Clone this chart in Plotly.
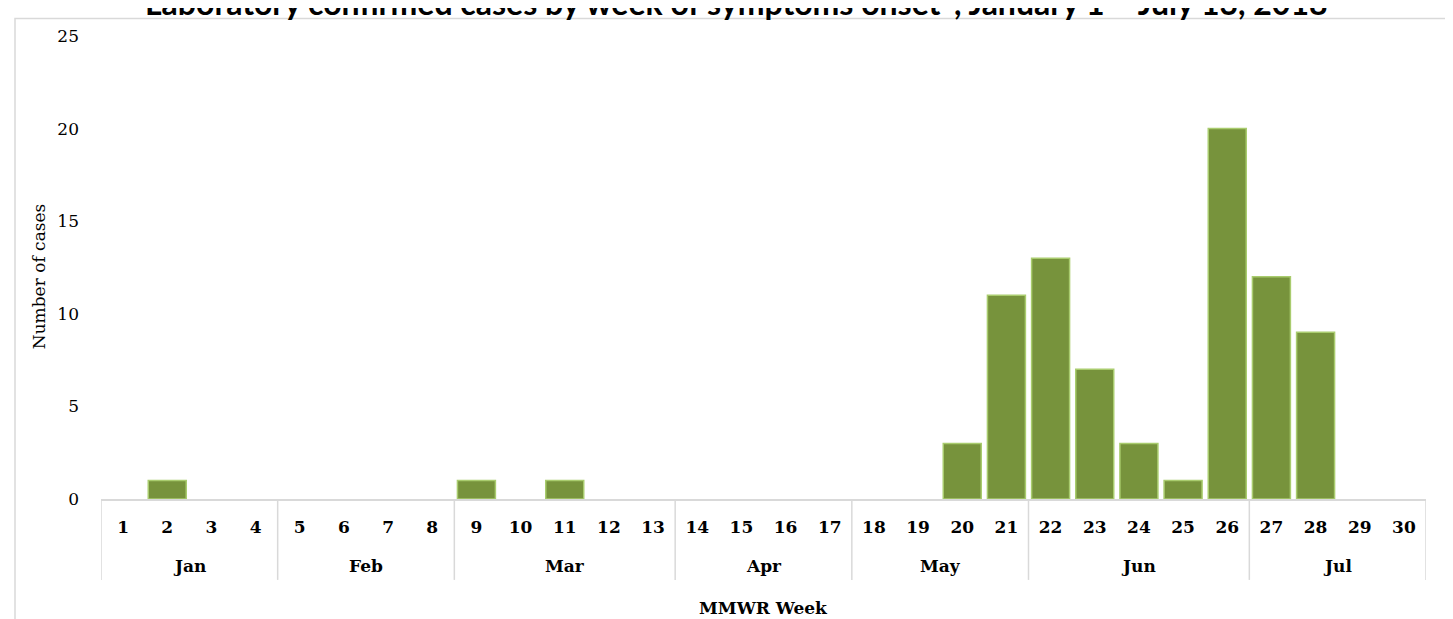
import plotly.graph_objects as go

# ---- data ----
weeks = list(range(1, 31))
cases = [0, 1, 0, 0, 0, 0, 0, 0, 1, 0, 1, 0, 0, 0, 0, 0, 0, 0, 0, 3,
         11, 13, 7, 3, 1, 20, 12, 9, 0, 0]
week_month = (["Jan"] * 4 + ["Feb"] * 4 + ["Mar"] * 5 + ["Apr"] * 4 +
              ["May"] * 4 + ["Jun"] * 5 + ["Jul"] * 4)
title_text = "Laboratory confirmed cases by week of symptoms onset*, January 1 \u2013 July 13, 2018"
y_title = "Number of cases"
x_title = "MMWR Week"

# ---- geometry (pixels) ----
W, H = 1453, 619
PL, PR, PT, PB = 93, 1418, 27.5, 491
ph = PB - PT
pw = PR - PL


def px_y(py):
    return (PB - py) / ph


def px_x(px):
    return (px - PL) / pw


SERIF = "DejaVu Serif"
GRID = "#d9d9d9"

fig = go.Figure()
fig.add_trace(go.Bar(
    x=weeks,
    y=[v if v else None for v in cases],
    marker=dict(color="#77933C", line=dict(color="#A9CC6E", width=1.5)),
    hoverinfo="x+y",
))

shapes = []
annotations = []

# month groups
groups = []
for w, m in zip(weeks, week_month):
    if groups and groups[-1][0] == m:
        groups[-1][2] = w
    else:
        groups.append([m, w, w])

boundaries = [groups[0][1] - 0.5] + [g[2] + 0.5 for g in groups]
for b in boundaries:
    shapes.append(dict(type="line", xref="x", yref="paper", x0=b, x1=b,
                       y0=0, y1=px_y(572), line=dict(color=GRID, width=1.5)))
for m, a, b in groups:
    annotations.append(dict(text="<b>%s</b>" % m, xref="x", yref="paper",
                            x=(a + b) / 2, y=px_y(558), showarrow=False,
                            yanchor="middle",
                            font=dict(family=SERIF, size=17, color="#000")))

# outer chart border
shapes.append(dict(type="rect", xref="paper", yref="paper",
                   x0=px_x(7), x1=px_x(1445), y0=px_y(700), y1=px_y(10),
                   line=dict(color=GRID, width=1.5), layer="below"))

# title (cut off at the top like the reference)
annotations.append(dict(text="<b>%s</b>" % title_text, xref="paper", yref="paper",
                        x=px_x(728), y=px_y(15), yanchor="bottom", xanchor="center",
                        showarrow=False,
                        font=dict(family="Lato", size=32, color="#000")))
# axis titles
annotations.append(dict(text=y_title, xref="paper", yref="paper",
                        x=px_x(31), y=px_y(268), textangle=-90, showarrow=False,
                        xanchor="center", yanchor="middle",
                        font=dict(family=SERIF, size=17, color="#000")))
annotations.append(dict(text="<b>%s</b>" % x_title, xref="paper", yref="paper",
                        x=0.5, y=px_y(600), showarrow=False,
                        xanchor="center", yanchor="middle",
                        font=dict(family=SERIF, size=17, color="#000")))

fig.update_layout(
    width=W, height=H,
    margin=dict(l=PL, r=W - PR, t=PT, b=H - PB, pad=0),
    paper_bgcolor="white", plot_bgcolor="white",
    bargap=0.14, showlegend=False,
    shapes=shapes, annotations=annotations,
    xaxis=dict(range=[0.5, 30.5], tickmode="array", tickvals=weeks,
               ticktext=["<b>%d</b>" % w for w in weeks],
               showgrid=False, zeroline=False, showline=True,
               linecolor=GRID, linewidth=1.5, ticks="",
               ticklabelstandoff=12,
               tickfont=dict(family=SERIF, size=17, color="#000")),
    yaxis=dict(range=[0, 25], dtick=5, showgrid=False, zeroline=False,
               showline=False, ticks="", ticklabelstandoff=21,
               tickfont=dict(family=SERIF, size=17, color="#000")),
)

fig.write_html("out.html")
